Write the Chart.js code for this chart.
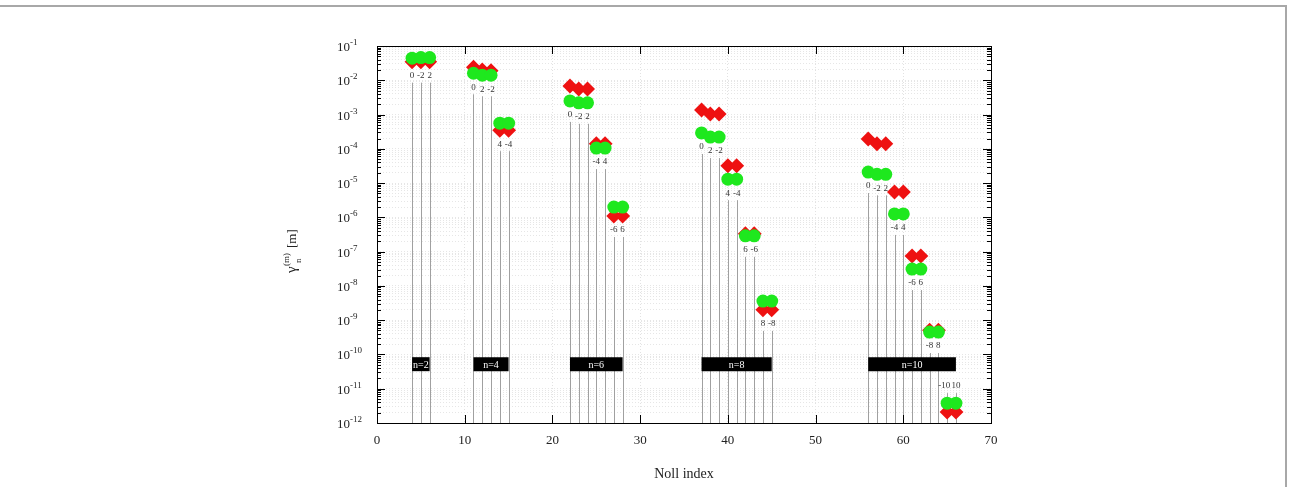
<!DOCTYPE html>
<html>
<head>
<meta charset="utf-8">
<script src="https://cdn.jsdelivr.net/npm/chart.js@4.4.0/dist/chart.umd.min.js"></script>
<style>
  body { margin: 0; background: #fff; }
  #wrap { position: relative; width: 1290px; height: 487px; }
  #frame { position: absolute; left: 0; top: 5px; width: 1285px; height: 490px;
           border-top: 2px solid #a8a8a8; border-right: 2px solid #a8a8a8; pointer-events: none; }
</style>
</head>
<body>
<div id="wrap">
  <canvas id="zernikeChart" width="1290" height="487"></canvas>
  <div id="frame"></div>
</div>
<script>
// Noll index of each mode and its azimuthal order m
const nollIdx = [4,5,6, 11,12,13,14,15, 22,23,24,25,26,27,28,
                 37,38,39,40,41,42,43,44,45, 56,57,58,59,60,61,62,63,64,65,66];
const mLabels = ['0','-2','2', '0','2','-2','4','-4', '0','-2','2','-4','4','-6','6',
                 '0','2','-2','4','-4','6','-6','8','-8',
                 '0','-2','2','-4','4','-6','6','-8','8','-10','10'];
const greenVals = [4.4e-2,4.6e-2,4.6e-2, 1.6e-2,1.4e-2,1.4e-2,5.6e-4,5.6e-4,
                   2.5e-3,2.2e-3,2.2e-3,1.05e-4,1.05e-4,2.0e-6,2.0e-6,
                   2.9e-4,2.2e-4,2.2e-4,1.3e-5,1.3e-5,2.9e-7,2.9e-7,3.6e-9,3.6e-9,
                   2.1e-5,1.8e-5,1.8e-5,1.26e-6,1.26e-6,3.1e-8,3.1e-8,4.5e-10,4.5e-10,3.8e-12,3.8e-12];
const redVals = [3.5e-2,3.5e-2,3.5e-2, 2.4e-2,2.0e-2,1.9e-2,3.5e-4,3.5e-4,
                 6.8e-3,5.6e-3,5.6e-3,1.4e-4,1.4e-4,1.1e-6,1.1e-6,
                 1.35e-3,1.04e-3,1.04e-3,3.2e-5,3.2e-5,3.3e-7,3.3e-7,2.0e-9,2.0e-9,
                 1.95e-4,1.4e-4,1.4e-4,5.5e-6,5.5e-6,7.4e-8,7.4e-8,5.1e-10,5.1e-10,2.1e-12,2.1e-12];
// radial order groups (first / last Noll index) for the black boxes
const groupNames = ['n=2','n=4','n=6','n=8','n=10'];
const groupStart = [4, 11, 22, 37, 56];
const groupEnd = [6, 15, 28, 45, 66];
const groupLevel = 5.2e-11;
const xTicks = [0,10,20,30,40,50,60,70];
const decades = [-12,-11,-10,-9,-8,-7,-6,-5,-4,-3,-2,-1];

const serif = "'Liberation Serif', 'DejaVu Serif', serif";

const boxSets = groupNames.map((name, i) => ({
  type: 'line',
  label: name,
  data: [{x: groupStart[i], y: groupLevel}, {x: groupEnd[i], y: groupLevel}],
  borderColor: '#000',
  borderWidth: 14,
  borderCapStyle: 'butt',
  pointRadius: 0,
  order: 5
}));

// stems, inward ticks, frame, m labels and the log-axis labels
const decorPlugin = {
  id: 'decor',
  beforeDatasetsDraw(chart) {
    const c = chart.ctx, xs = chart.scales.x, ys = chart.scales.y, a = chart.chartArea;
    c.save();
    c.strokeStyle = '#a0a0a0';
    c.lineWidth = 1;
    c.fillStyle = '#333';
    c.font = '9px ' + serif;
    c.textAlign = 'center';
    c.textBaseline = 'middle';
    nollIdx.forEach((j, i) => {
      const px = Math.round(xs.getPixelForValue(j)) + 0.5;
      const gy = ys.getPixelForValue(greenVals[i]), ry = ys.getPixelForValue(redVals[i]);
      let ly = Math.max(gy, ry) + 14;
      // no room under the markers: put the label above them
      if (ly + 10 > a.bottom) ly = Math.min(gy, ry) - 17;
      c.beginPath();
      c.moveTo(px, ly + 7);
      c.lineTo(px, a.bottom);
      c.stroke();
      // long negative labels lean left so neighbours don't collide
      const shift = mLabels[i].length > 2 ? -3 : 0;
      c.fillText(mLabels[i], xs.getPixelForValue(j) + shift, ly);
    });
    c.restore();
  },
  afterDraw(chart) {
    const c = chart.ctx, xs = chart.scales.x, ys = chart.scales.y, a = chart.chartArea;
    c.save();
    // box captions
    c.fillStyle = '#fff';
    c.font = '10px ' + serif;
    c.textAlign = 'center';
    c.textBaseline = 'middle';
    groupNames.forEach((name, i) => {
      const cx = (xs.getPixelForValue(groupStart[i]) + xs.getPixelForValue(groupEnd[i])) / 2;
      c.fillText(name, cx, ys.getPixelForValue(groupLevel) + 1);
    });
    // frame
    c.strokeStyle = '#000';
    c.lineWidth = 1;
    c.strokeRect(Math.round(a.left) + 0.5, Math.round(a.top) + 0.5,
                 Math.round(a.right - a.left), Math.round(a.bottom - a.top));
    // inward ticks
    c.beginPath();
    decades.forEach(k => {
      for (let f = 1; f <= 9; f++) {
        const v = f * Math.pow(10, k);
        if (v > 0.1 * 1.0001) continue;
        const py = Math.round(ys.getPixelForValue(v)) + 0.5;
        const len = f === 1 ? 8 : 4;
        c.moveTo(a.left, py); c.lineTo(a.left + len, py);
        c.moveTo(a.right, py); c.lineTo(a.right - len, py);
      }
    });
    xTicks.forEach(t => {
      const px = Math.round(xs.getPixelForValue(t)) + 0.5;
      c.moveTo(px, a.bottom); c.lineTo(px, a.bottom - 8);
      c.moveTo(px, a.top); c.lineTo(px, a.top + 8);
    });
    c.stroke();
    // y tick labels 10^k
    c.fillStyle = '#222';
    c.textBaseline = 'alphabetic';
    decades.forEach(k => {
      const py = ys.getPixelForValue(Math.pow(10, k));
      c.font = '13px ' + serif;
      c.textAlign = 'right';
      c.fillText('10', 350, py + 5);
      c.font = '9px ' + serif;
      c.textAlign = 'left';
      c.fillText(String(k), 350, py - 1);
    });
    // y title
    c.save();
    c.translate(296, 245);
    c.rotate(-Math.PI / 2);
    c.textAlign = 'left';
    c.font = '15px ' + serif;
    c.fillText('\u03b3', -28, 0);
    c.font = '9px ' + serif;
    c.fillText('(m)', -21, -7);
    c.fillText('n', -18, 5);
    c.font = '13px ' + serif;
    c.fillText('[m]', -3, 0);
    c.restore();
    // x title
    c.font = '14px ' + serif;
    c.textAlign = 'center';
    c.fillText('Noll index', (a.left + a.right) / 2, 478);
    c.restore();
  }
};

const ctx = document.getElementById('zernikeChart').getContext('2d');
const zernikeChart = new Chart(ctx, {
  type: 'scatter',
  data: {
    datasets: [
      {
        label: 'green',
        data: nollIdx.map((j, i) => ({x: j, y: greenVals[i]})),
        pointStyle: 'circle',
        pointRadius: 6.5,
        backgroundColor: '#1ee81e',
        borderColor: '#1ee81e',
        borderWidth: 0,
        order: 1
      },
      {
        label: 'red',
        data: nollIdx.map((j, i) => ({x: j, y: redVals[i]})),
        pointStyle: 'rectRot',
        pointRadius: 7.5,
        backgroundColor: '#ee1111',
        borderColor: '#ee1111',
        borderWidth: 0,
        order: 2
      },
      ...boxSets
    ]
  },
  options: {
    responsive: false,
    animation: false,
    layout: { padding: { left: 0, right: 299, top: 46, bottom: 0 } },
    plugins: {
      legend: { display: false },
      tooltip: { enabled: false }
    },
    scales: {
      x: {
        type: 'linear',
        min: 0,
        max: 70,
        afterBuildTicks: axis => { axis.ticks = xTicks.map(v => ({value: v})); },
        afterFit: axis => { axis.height = 64; },
        ticks: { color: '#222', padding: 10, font: { family: serif, size: 13 } },
        grid: { color: '#e2e2e2', drawTicks: false },
        border: { display: false, dash: [1, 2] }
      },
      y: {
        type: 'logarithmic',
        min: 1e-12,
        max: 1e-1,
        afterBuildTicks: axis => {
          const t = [];
          decades.forEach(k => {
            for (let f = 1; f <= 9; f++) {
              const v = f * Math.pow(10, k);
              if (v <= 0.1 * 1.0001) t.push({value: v, major: f === 1});
            }
          });
          axis.ticks = t;
        },
        afterFit: axis => { axis.width = 377; },
        ticks: { display: false },
        grid: { color: '#e6e6e6', drawTicks: false },
        border: { display: false, dash: [1, 2] }
      }
    }
  },
  plugins: [decorPlugin]
});
</script>
</body>
</html>
